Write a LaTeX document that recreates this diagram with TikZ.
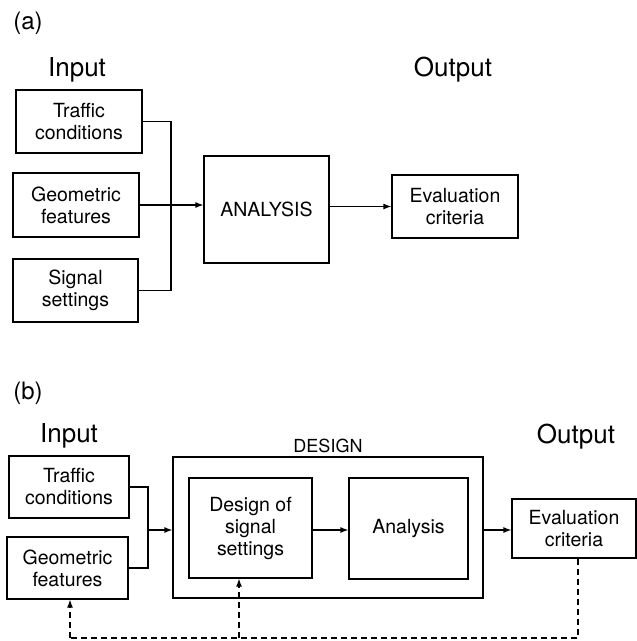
\documentclass[tikz,border=0pt]{standalone}
\usepackage{fontspec}
\setmainfont{TeX Gyre Heros}
\usepackage{tikz}
\usetikzlibrary{arrows.meta}

\begin{document}
\begin{tikzpicture}[x=1pt,y=-1pt]
\tikzset{box/.style = {draw,line width=1.2pt,align=center,inner sep=0pt,
  font=\fontsize{19.5}{22}\selectfont}}
\tikzset{edge/.style = {->,line width=1.2pt,> = {Latex[length=8pt,width=6pt]}}}
\tikzset{link/.style = {line width=1.2pt}}
\tikzset{feedback/.style = {edge,dash pattern=on 6pt off 4pt}}
\tikzset{heading/.style = {font=\fontsize{26}{28}\selectfont}}
\useasboundingbox (0,0) rectangle (637,641);
% part (a)
\node[heading,font=\fontsize{24}{26}\selectfont] (labA) at (28,23) {(a)};
\node[heading] (inA) at (77,70) {Input};
\node[heading] (outA) at (453,70) {Output};
\node[box,minimum width=126pt,minimum height=63pt] (tcA) at (79,121.5) {Traffic\\conditions};
\node[box,minimum width=126pt,minimum height=64pt] (gfA) at (76,205) {Geometric\\features};
\node[box,minimum width=125pt,minimum height=63pt] (ssA) at (75.5,290.5) {Signal\\settings};
\node[box,minimum width=125pt,minimum height=107pt] (anA) at (266.5,209.5) {ANALYSIS};
\node[box,minimum width=126pt,minimum height=63pt] (ecA) at (455,206.5) {Evaluation\\criteria};
\coordinate (jA) at (171,206);
%edges
\draw[link] (tcA.east) -| (jA) |- (ssA.east);
\draw[edge] (gfA.east) -- (gfA.east -| anA.west);
\draw[edge] (anA.east |- ecA.west) -- (ecA.west);
% part (b)
\node[heading,font=\fontsize{24}{26}\selectfont] (labB) at (28,393) {(b)};
\node[heading] (inB) at (69,436) {Input};
\node[heading] (outB) at (576,437) {Output};
\node[box,minimum width=120pt,minimum height=62pt] (tcB) at (69,487) {Traffic\\conditions};
\node[box,minimum width=121pt,minimum height=62pt] (gfB) at (67.5,568) {Geometric\\features};
\node[box,minimum width=310pt,minimum height=141pt] (dgB) at (328,527.5) {};
\node[font=\fontsize{18}{20}\selectfont] (dgL) at (328,446) {DESIGN};
\node[box,minimum width=123pt,minimum height=100pt] (dsB) at (250.5,528) {Design of\\signal\\settings};
\node[box,minimum width=119pt,minimum height=101pt] (anB) at (408.5,528.5) {Analysis};
\node[box,minimum width=124pt,minimum height=59pt] (ecB) at (574,528.5) {Evaluation\\criteria};
\coordinate (jB) at (148,530);
\coordinate (fbR) at (578,638);
\coordinate (fbM) at (239,638);
\coordinate (fbL) at (70,638);
%edges
\draw[link] (tcB.east) -| (jB) |- (gfB.east);
\draw[edge] (jB) -- (jB -| dgB.west);
\draw[edge] (dsB.east |- jB) -- (anB.west |- jB);
\draw[edge] (dgB.east |- jB) -- (ecB.west |- jB);
\draw[line width=1.2pt,dash pattern=on 6pt off 4pt] (fbR |- ecB.south) -- (fbR) -- (fbL);
\draw[feedback] (fbL) -- (fbL |- gfB.south);
\draw[feedback] (fbM) -- (fbM |- dsB.south);
\end{tikzpicture}
\end{document}
